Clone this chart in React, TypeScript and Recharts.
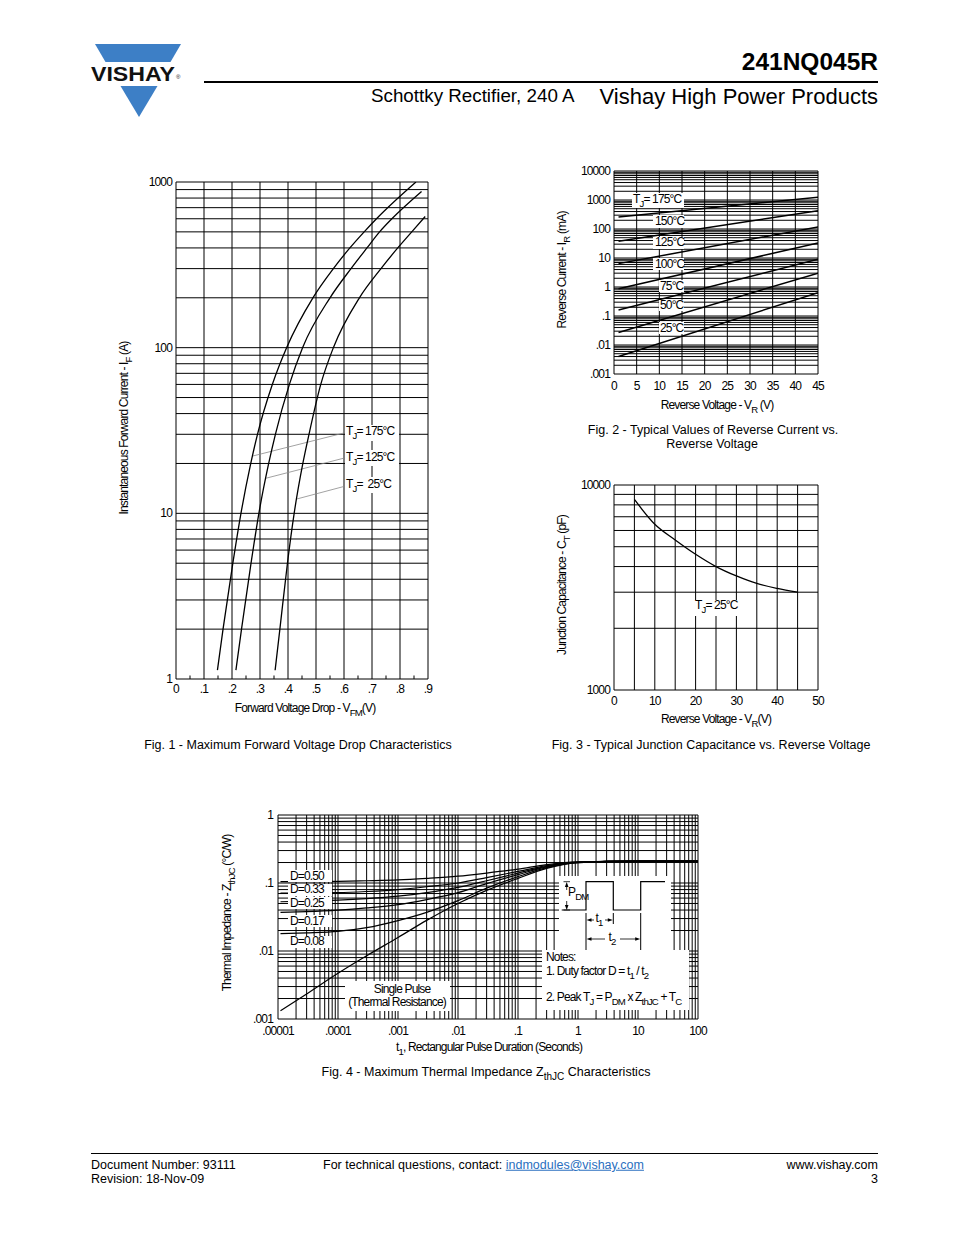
import React from 'react';
import { LineChart, Line, XAxis, YAxis, CartesianGrid, ReferenceLine } from 'recharts';

const FONT = '"Liberation Sans", Arial, Helvetica, sans-serif';
const FS = 12;
const LS = -0.85;
const BLUE = '#3d7fc6';
const LINK = '#2a6fc0';

/* ---------------- Fig. 1 data ---------------- */
const fig1VoltTicks = [0, 0.1, 0.2, 0.3, 0.4, 0.5, 0.6, 0.7, 0.8, 0.9];
const fig1VoltLabels = ['0', '.1', '.2', '.3', '.4', '.5', '.6', '.7', '.8', '.9'];
const fig1MinorTicks = [0.05, 0.15, 0.25, 0.35, 0.45, 0.55, 0.65, 0.75, 0.85];
const fig1CurrentLabels = ['1', '10', '100', '1000'];
const fig1I175 = [1.13, 2, 5, 10, 20, 30, 60, 100, 200, 300, 400, 500, 600, 1000];
const fig1V175 = [0.148, 0.168, 0.203, 0.232, 0.267, 0.291, 0.344, 0.395, 0.489, 0.562, 0.621, 0.672, 0.716, 0.857];
const fig1I125 = [1.13, 2, 5, 10, 20, 30, 60, 100, 200, 300, 400, 500, 600, 877];
const fig1V125 = [0.214, 0.234, 0.268, 0.296, 0.331, 0.355, 0.405, 0.452, 0.55, 0.625, 0.682, 0.727, 0.771, 0.877];
const fig1I25 = [1.13, 2, 5, 10, 20, 30, 60, 100, 200, 300, 400, 500, 619];
const fig1V25 = [0.354, 0.371, 0.398, 0.422, 0.453, 0.475, 0.517, 0.562, 0.655, 0.732, 0.792, 0.842, 0.89];
const fig1Leader175 = [[0.598, 30.5], [0.275, 22.2]];
const fig1Leader125 = [[0.598, 21.5], [0.322, 16.3]];
const fig1Leader25 = [[0.598, 14.5], [0.431, 12.2]];

/* ---------------- Fig. 2 data ---------------- */
const fig2VoltTicks = [0, 5, 10, 15, 20, 25, 30, 35, 40, 45];
const fig2VoltLabels = ['0', '5', '10', '15', '20', '25', '30', '35', '40', '45'];
const fig2CurrentLabels = ['.001', '.01', '.1', '1', '10', '100', '1000', '10000'];
const fig2Volt = [1, 45];
const fig2Tj175 = [257, 1250];
const fig2Tj150 = [37.5, 430];
const fig2Tj125 = [6.4, 118];
const fig2Tj100 = [0.87, 33];
const fig2Tj75 = [0.16, 9];
const fig2Tj50 = [0.027, 3];
const fig2Tj25 = [0.004, 0.64];

/* ---------------- Fig. 3 data ---------------- */
const fig3VoltTicks = [0, 5, 10, 15, 20, 25, 30, 35, 40, 45, 50];
const fig3VoltLabels = ['0', '', '10', '', '20', '', '30', '', '40', '', '50'];
const fig3CapTicks = [1000, 2000, 3000, 4000, 5000, 6000, 7000, 8000, 9000, 10000];
const fig3CapLabels = ['1000', '', '', '', '', '', '', '', '', '10000'];
const fig3Volt = [5, 10, 15, 20, 25, 30, 35, 40, 45];
const fig3Cap = [8500, 6430, 5390, 4590, 4000, 3600, 3310, 3130, 3000];

/* ---------------- Fig. 4 data ---------------- */
const fig4TimeLabels = ['.00001', '.0001', '.001', '.01', '.1', '1', '10', '100'];
const fig4ZLabels = ['.001', '.01', '.1', '1'];
const fig4Time = [0.000011, 0.00003, 0.0001, 0.0003, 0.001, 0.003, 0.01, 0.03, 0.1, 0.3, 1, 10, 100];
const fig4D50 = [0.105, 0.105, 0.106, 0.108, 0.111, 0.117, 0.126, 0.14, 0.16, 0.186, 0.204, 0.21, 0.21];
const fig4D33 = [0.071, 0.071, 0.072, 0.075, 0.08, 0.088, 0.1, 0.12, 0.148, 0.18, 0.203, 0.21, 0.21];
const fig4D25 = [0.053, 0.054, 0.056, 0.059, 0.064, 0.072, 0.086, 0.108, 0.14, 0.176, 0.202, 0.21, 0.21];
const fig4D17 = [0.037, 0.038, 0.04, 0.043, 0.048, 0.057, 0.072, 0.098, 0.133, 0.173, 0.201, 0.21, 0.21];
const fig4D08 = [0.018, 0.0185, 0.0195, 0.022, 0.028, 0.037, 0.055, 0.084, 0.124, 0.168, 0.2, 0.21, 0.21];
const fig4Single = [0.00132, 0.00234, 0.0047, 0.0085, 0.0158, 0.0282, 0.05, 0.078, 0.117, 0.164, 0.2, 0.21, 0.21];

/* ---------------- helpers ---------------- */
type Box = { left: number; top: number; w: number; h: number };
const YW = 60;
const XH = 40;
const MT = 12;
const MR = 22;

const F1: Box = { left: 176, top: 182, w: 252, h: 497 };
const F2: Box = { left: 614, top: 171, w: 204, h: 203 };
const F3: Box = { left: 614, top: 485, w: 204, h: 205 };
const F4: Box = { left: 278, top: 815, w: 420, h: 204 };

function logGrid(minExp: number, maxExp: number): number[] {
  const out: number[] = [];
  for (let e = minExp; e < maxExp; e++) {
    for (let m = 1; m < 10; m++) out.push(Number((m * Math.pow(10, e)).toPrecision(6)));
  }
  out.push(Number(Math.pow(10, maxExp).toPrecision(6)));
  return out;
}

const pts = (xs: number[], ys: number[]) => xs.map((x, i) => ({ x, y: ys[i] }));

const decadeLabel = (labels: string[], minExp: number) => (v: number) => {
  const e = Math.log10(v);
  const r = Math.round(e);
  if (Math.abs(e - r) > 1e-6) return null;
  return labels[r - minExp] ?? null;
};
const listLabel = (ticks: number[], labels: string[]) => (v: number) => {
  const i = ticks.findIndex((t) => Math.abs(t - v) < 1e-9);
  return i >= 0 && labels[i] ? labels[i] : null;
};

const textStyle = { fontFamily: FONT, fontSize: FS, letterSpacing: LS } as const;

const yTick = (labelFor: (v: number) => string | null, gap: number) => (p: any) => {
  const s = labelFor(p.payload.value);
  if (!s) return <g />;
  return (
    <text x={YW - gap} y={p.y} textAnchor="end" dominantBaseline="central" fill="#000" style={textStyle}>
      {s}
    </text>
  );
};
const xTick = (labelFor: (v: number) => string | null, box: Box, dy: number) => (p: any) => {
  const s = labelFor(p.payload.value);
  if (!s) return <g />;
  return (
    <text x={p.x} y={MT + box.h + dy} textAnchor="middle" dominantBaseline="central" fill="#000" style={textStyle}>
      {s}
    </text>
  );
};

function Frame({ box, children }: { box: Box; children: React.ReactNode }) {
  return (
    <div style={{ position: 'absolute', left: box.left - YW, top: box.top - MT }}>
      <LineChart
        width={YW + box.w + MR}
        height={MT + box.h + XH}
        margin={{ top: MT, right: MR, bottom: 0, left: 0 }}
      >
        {children}
      </LineChart>
    </div>
  );
}

const Sub = ({ children }: { children: React.ReactNode }) => (
  <span style={{ fontSize: '0.8em', position: 'relative', top: '0.38em' }}>{children}</span>
);

function Txt({
  x,
  y,
  align = 'left',
  size = FS,
  ls = LS,
  weight = 400,
  color = '#000',
  rotate = false,
  children,
}: {
  x: number;
  y: number;
  align?: 'left' | 'center' | 'right';
  size?: number;
  ls?: number;
  weight?: number;
  color?: string;
  rotate?: boolean;
  children: React.ReactNode;
}) {
  const tx = align === 'left' ? '0' : align === 'center' ? '-50%' : '-100%';
  const transform = rotate ? 'translate(-50%,-50%) rotate(-90deg)' : `translate(${tx},-50%)`;
  return (
    <div
      style={{
        position: 'absolute',
        left: x,
        top: y,
        transform,
        fontFamily: FONT,
        fontSize: size,
        letterSpacing: ls,
        fontWeight: weight,
        color,
        lineHeight: 1,
        whiteSpace: 'nowrap',
      }}
    >
      {children}
    </div>
  );
}

const WBox = ({ x, y, w, h }: { x: number; y: number; w: number; h: number }) => (
  <div style={{ position: 'absolute', left: x, top: y, width: w, height: h, background: '#fff' }} />
);

const lineProps = {
  type: 'monotone' as const,
  dataKey: 'y',
  stroke: '#000',
  dot: false,
  activeDot: false,
  isAnimationActive: false,
};

/* ---------------- charts ---------------- */
function Fig1() {
  const yTicks = logGrid(0, 3);
  const leaders = [fig1Leader175, fig1Leader125, fig1Leader25];
  return (
    <Frame box={F1}>
      <CartesianGrid stroke="#000" strokeWidth={1} />
      <XAxis
        dataKey="x"
        type="number"
        domain={[0, 0.9]}
        ticks={fig1VoltTicks}
        interval={0}
        allowDataOverflow
        axisLine={false}
        tickLine={false}
        height={XH}
        tick={xTick(listLabel(fig1VoltTicks, fig1VoltLabels), F1, 10)}
      />
      <YAxis
        type="number"
        scale="log"
        domain={[1, 1000]}
        ticks={yTicks}
        interval={0}
        allowDataOverflow
        axisLine={false}
        tickLine={false}
        width={YW}
        tick={yTick(decadeLabel(fig1CurrentLabels, 0), 4)}
      />
      {fig1MinorTicks.map((v) => (
        <ReferenceLine key={v} segment={[{ x: v, y: 1 }, { x: v, y: 1.05 }]} stroke="#000" strokeWidth={1} />
      ))}
      {leaders.map((l, i) => (
        <ReferenceLine
          key={'l' + i}
          segment={[{ x: l[0][0], y: l[0][1] }, { x: l[1][0], y: l[1][1] }]}
          stroke="#8a8a8a"
          strokeWidth={0.8}
        />
      ))}
      <Line {...lineProps} data={pts(fig1V175, fig1I175)} strokeWidth={1.3} />
      <Line {...lineProps} data={pts(fig1V125, fig1I125)} strokeWidth={1.3} />
      <Line {...lineProps} data={pts(fig1V25, fig1I25)} strokeWidth={1.3} />
    </Frame>
  );
}

function Fig2() {
  const yTicks = logGrid(-3, 4);
  const series = [fig2Tj175, fig2Tj150, fig2Tj125, fig2Tj100, fig2Tj75, fig2Tj50, fig2Tj25];
  return (
    <Frame box={F2}>
      <CartesianGrid stroke="#000" strokeWidth={1} />
      <XAxis
        dataKey="x"
        type="number"
        domain={[0, 45]}
        ticks={fig2VoltTicks}
        interval={0}
        allowDataOverflow
        axisLine={false}
        tickLine={false}
        height={XH}
        tick={xTick(listLabel(fig2VoltTicks, fig2VoltLabels), F2, 12)}
      />
      <YAxis
        type="number"
        scale="log"
        domain={[0.001, 10000]}
        ticks={yTicks}
        interval={0}
        allowDataOverflow
        axisLine={false}
        tickLine={false}
        width={YW}
        tick={yTick(decadeLabel(fig2CurrentLabels, -3), 4)}
      />
      {series.map((s, i) => (
        <Line key={i} {...lineProps} type="linear" data={pts(fig2Volt, s)} strokeWidth={1.5} />
      ))}
    </Frame>
  );
}

function Fig3() {
  return (
    <Frame box={F3}>
      <CartesianGrid stroke="#000" strokeWidth={1} />
      <XAxis
        dataKey="x"
        type="number"
        domain={[0, 50]}
        ticks={fig3VoltTicks}
        interval={0}
        allowDataOverflow
        axisLine={false}
        tickLine={false}
        height={XH}
        tick={xTick(listLabel(fig3VoltTicks, fig3VoltLabels), F3, 11)}
      />
      <YAxis
        type="number"
        scale="log"
        domain={[1000, 10000]}
        ticks={fig3CapTicks}
        interval={0}
        allowDataOverflow
        axisLine={false}
        tickLine={false}
        width={YW}
        tick={yTick(listLabel(fig3CapTicks, fig3CapLabels), 4)}
      />
      <Line {...lineProps} data={pts(fig3Volt, fig3Cap)} strokeWidth={1.3} />
    </Frame>
  );
}

function Fig4() {
  const xTicks = logGrid(-5, 2);
  const yTicks = logGrid(-3, 0);
  const series = [fig4D50, fig4D33, fig4D25, fig4D17, fig4D08, fig4Single];
  return (
    <Frame box={F4}>
      <CartesianGrid stroke="#000" strokeWidth={1} />
      <XAxis
        dataKey="x"
        type="number"
        scale="log"
        domain={[0.00001, 100]}
        ticks={xTicks}
        interval={0}
        allowDataOverflow
        axisLine={false}
        tickLine={false}
        height={XH}
        tick={xTick(decadeLabel(fig4TimeLabels, -5), F4, 12)}
      />
      <YAxis
        type="number"
        scale="log"
        domain={[0.001, 1]}
        ticks={yTicks}
        interval={0}
        allowDataOverflow
        axisLine={false}
        tickLine={false}
        width={YW}
        tick={yTick(decadeLabel(fig4ZLabels, -3), 5)}
      />
      {series.map((s, i) => (
        <Line key={i} {...lineProps} data={pts(fig4Time, s)} strokeWidth={1.2} />
      ))}
    </Frame>
  );
}

/* ---------------- page decorations ---------------- */
function Decor() {
  return (
    <svg width={954} height={1235} style={{ position: 'absolute', left: 0, top: 0, pointerEvents: 'none' }}>
      {/* logo */}
      <polygon points="95,44 181,44 170.5,62 105.5,62" fill={BLUE} />
      <polygon points="120.5,86 157.5,86 139,117" fill={BLUE} />
      <text
        x={91}
        y={81}
        fontFamily={FONT}
        fontWeight={700}
        fontSize={21}
        textLength={84}
        lengthAdjust="spacingAndGlyphs"
        fill="#111"
      >
        VISHAY
      </text>
      <text x={176} y={79} fontFamily={FONT} fontSize={6} fill="#111">
        ®
      </text>
      <rect x={204} y={81} width={674} height={2} fill="#000" />
      <rect x={91} y={1153} width={787} height={1} fill="#000" />

      {/* Fig 4 inset boxes */}
      <rect x={345} y={981} width={105} height={30} fill="#fff" />
      <rect x={559} y={876} width={112} height={74} fill="#fff" />
      <rect x={542} y={950} width={147} height={60} fill="#fff" />
      <path d="M561.7 910 H586 V881.7 H613.3 V910 H640.7 V881.7 H665" fill="none" stroke="#000" strokeWidth={1.2} />
      {/* P_DM arrow */}
      <line x1={563.5} y1={881.7} x2={570} y2={881.7} stroke="#000" strokeWidth={0.8} />
      <line x1={563.5} y1={910} x2={570} y2={910} stroke="#000" strokeWidth={0.8} />
      <polygon points="566.7,882 564.9,887 568.5,887" fill="#000" />
      <line x1={566.7} y1={886} x2={566.7} y2={890} stroke="#000" strokeWidth={0.8} />
      <line x1={566.7} y1={901} x2={566.7} y2={906} stroke="#000" strokeWidth={0.8} />
      <polygon points="566.7,910 564.9,905 568.5,905" fill="#000" />
      {/* t1 / t2 markers */}
      <line x1={586} y1={913} x2={586} y2={950} stroke="#000" strokeWidth={1} />
      <line x1={613.3} y1={913} x2={613.3} y2={924} stroke="#000" strokeWidth={1} />
      <line x1={640.7} y1={913} x2={640.7} y2={950} stroke="#000" strokeWidth={1} />
      <polygon points="586.5,920 591.5,918.2 591.5,921.8" fill="#000" />
      <line x1={591} y1={920} x2={594} y2={920} stroke="#000" strokeWidth={0.8} />
      <line x1={605} y1={920} x2={608.5} y2={920} stroke="#000" strokeWidth={0.8} />
      <polygon points="612.8,920 607.8,918.2 607.8,921.8" fill="#000" />
      <polygon points="586.5,939 591.5,937.2 591.5,940.8" fill="#000" />
      <line x1={591} y1={939} x2={605} y2={939} stroke="#000" strokeWidth={0.8} />
      <line x1={620} y1={939} x2={636} y2={939} stroke="#000" strokeWidth={0.8} />
      <polygon points="640.2,939 635.2,937.2 635.2,940.8" fill="#000" />
    </svg>
  );
}

export default function App() {
  return (
    <div style={{ position: 'absolute', left: 0, top: 0, width: 954, height: 1235, background: '#fff', overflow: 'hidden' }}>
      <Fig1 />
      <Fig2 />
      <Fig3 />
      <Fig4 />
      <Decor />

      {/* header */}
      <Txt x={878} y={62} align="right" size={24.5} ls={0} weight={700}>
        241NQ045R
      </Txt>
      <Txt x={371} y={96} size={18.8} ls={0}>
        Schottky Rectifier, 240 A
      </Txt>
      <Txt x={878} y={97} align="right" size={22} ls={0}>
        Vishay High Power Products
      </Txt>

      {/* Fig 1 annotations */}
      <WBox x={345} y={425} w={54} h={16} />
      <WBox x={345} y={450} w={54} h={16} />
      <WBox x={345} y={477} w={54} h={16} />
      <Txt x={346} y={431}>
        T<Sub>J</Sub>= 175°C
      </Txt>
      <Txt x={346} y={457}>
        T<Sub>J</Sub>= 125°C
      </Txt>
      <Txt x={346} y={484}>
        T<Sub>J</Sub>=&nbsp; 25°C
      </Txt>
      <Txt x={124} y={428} rotate>
        Instantaneous Forward Current - I<Sub>F</Sub> (A)
      </Txt>
      <Txt x={305} y={708} align="center">
        Forward Voltage Drop - V<Sub>FM</Sub>(V)
      </Txt>
      <Txt x={298} y={745} align="center" size={12.5} ls={0}>
        Fig. 1 - Maximum Forward Voltage Drop Characteristics
      </Txt>

      {/* Fig 2 annotations */}
      <WBox x={632} y={193} w={52} h={15} />
      <WBox x={653} y={215} w={31} h={13} />
      <WBox x={653} y={237} w={31} h={12} />
      <WBox x={653} y={258} w={31} h={12} />
      <WBox x={659} y={280} w={25} h={12} />
      <WBox x={659} y={300} w={25} h={11} />
      <WBox x={659} y={322} w={25} h={12} />
      <Txt x={633} y={199}>
        T<Sub>J</Sub>= 175°C
      </Txt>
      <Txt x={655} y={221}>150°C</Txt>
      <Txt x={655} y={242}>125°C</Txt>
      <Txt x={655} y={264}>100°C</Txt>
      <Txt x={660} y={286}>75°C</Txt>
      <Txt x={660} y={305}>50°C</Txt>
      <Txt x={660} y={328}>25°C</Txt>
      <Txt x={562} y={270} rotate>
        Reverse Current - I<Sub>R</Sub> (mA)
      </Txt>
      <Txt x={717} y={405} align="center">
        Reverse Voltage - V<Sub>R</Sub> (V)
      </Txt>
      <Txt x={713} y={430} align="center" size={12.5} ls={0}>
        Fig. 2 - Typical Values of Reverse Current vs.
      </Txt>
      <Txt x={712} y={444} align="center" size={12.5} ls={0}>
        Reverse Voltage
      </Txt>

      {/* Fig 3 annotations */}
      <WBox x={692} y={600} w={50} h={16} />
      <Txt x={695} y={605}>
        T<Sub>J</Sub>= 25°C
      </Txt>
      <Txt x={562} y={585} rotate>
        Junction Capacitance - C<Sub>T</Sub> (pF)
      </Txt>
      <Txt x={716} y={719} align="center">
        Reverse Voltage - V<Sub>R</Sub>(V)
      </Txt>
      <Txt x={711} y={745} align="center" size={12.5} ls={0}>
        Fig. 3 - Typical Junction Capacitance vs. Reverse Voltage
      </Txt>

      {/* Fig 4 annotations */}
      <WBox x={288} y={870} w={44} h={12} />
      <WBox x={288} y={884} w={44} h={12} />
      <WBox x={288} y={897} w={44} h={12} />
      <WBox x={288} y={915} w={44} h={12} />
      <WBox x={288} y={935.5} w={44} h={12} />
      <Txt x={290} y={876}>D=0.50</Txt>
      <Txt x={290} y={889}>D=0.33</Txt>
      <Txt x={290} y={903}>D=0.25</Txt>
      <Txt x={290} y={921}>D=0.17</Txt>
      <Txt x={290} y={941}>D=0.08</Txt>
      <Txt x={402} y={989} align="center">Single Pulse</Txt>
      <Txt x={397} y={1002} align="center">(Thermal Resistance)</Txt>
      <Txt x={568} y={892}>
        P<Sub>DM</Sub>
      </Txt>
      <Txt x={599} y={918} align="center">
        t<Sub>1</Sub>
      </Txt>
      <Txt x={612} y={937} align="center">
        t<Sub>2</Sub>
      </Txt>
      <Txt x={546} y={957}>Notes:</Txt>
      <Txt x={546} y={971}>
        1. Duty factor D = t<Sub>1</Sub> / t<Sub>2</Sub>
      </Txt>
      <Txt x={546} y={997}>
        2. Peak T<Sub>J</Sub> = P<Sub>DM</Sub> x Z<Sub>thJC</Sub> + T<Sub>C</Sub>
      </Txt>
      <Txt x={227} y={913} rotate>
        Thermal Impedance - Z<Sub>thJC</Sub> (°C/W)
      </Txt>
      <Txt x={489} y={1047} align="center">
        t<Sub>1</Sub>, Rectangular Pulse Duration (Seconds)
      </Txt>
      <Txt x={486} y={1072} align="center" size={12.5} ls={0}>
        Fig. 4 - Maximum Thermal Impedance Z<Sub>thJC</Sub> Characteristics
      </Txt>

      {/* footer */}
      <Txt x={91} y={1165} size={12.5} ls={0}>
        Document Number: 93111
      </Txt>
      <Txt x={91} y={1179} size={12.5} ls={0}>
        Revision: 18-Nov-09
      </Txt>
      <Txt x={323} y={1165} size={12.5} ls={0}>
        For technical questions, contact:{' '}
        <span style={{ color: LINK, textDecoration: 'underline' }}>indmodules@vishay.com</span>
      </Txt>
      <Txt x={878} y={1165} align="right" size={12.5} ls={0}>
        www.vishay.com
      </Txt>
      <Txt x={878} y={1179} align="right" size={12.5} ls={0}>
        3
      </Txt>
    </div>
  );
}
